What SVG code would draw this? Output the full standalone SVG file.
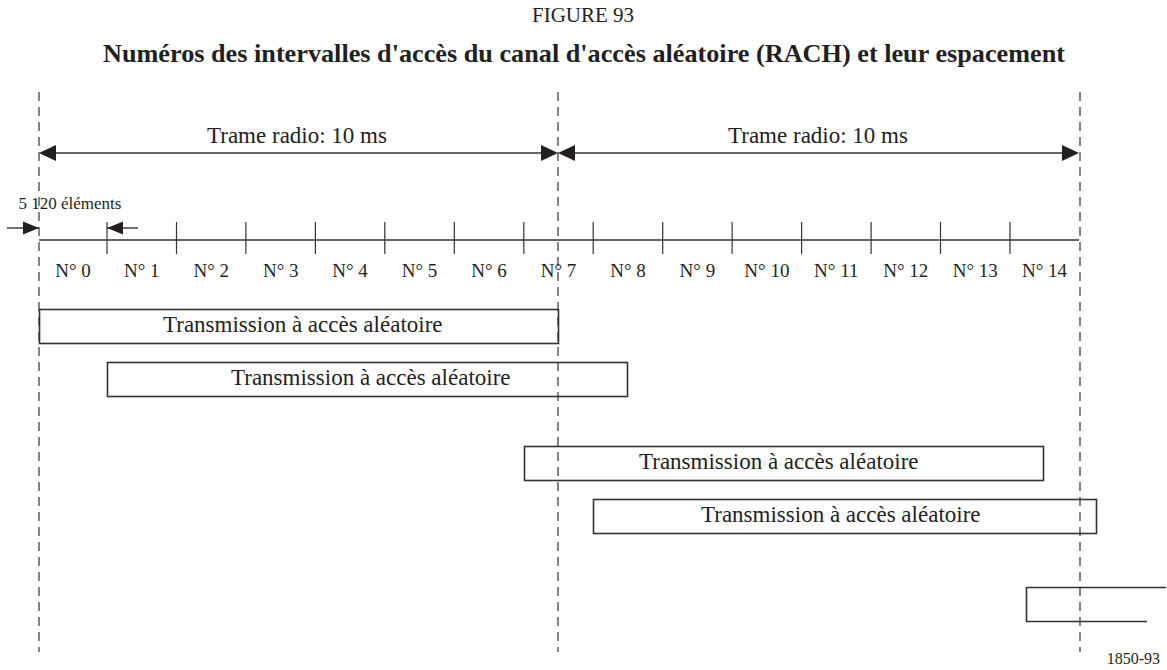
<svg xmlns="http://www.w3.org/2000/svg" width="1167" height="670" viewBox="0 0 1167 670">
  <style>
    .t { font-family: "Liberation Serif", "Times New Roman", serif; fill: #231f20; }
    .title { font-size: 21px; }
    .head { font-size: 25px; font-weight: bold; }
    .frame { font-size: 23px; }
    .slot { font-size: 19px; }
    .small { font-size: 17px; }
    .box { font-size: 23px; }
    .ref { font-size: 16px; }
    .dash { stroke: #444; stroke-width: 1.3; stroke-dasharray: 9 6; fill: none; }
    .ln { stroke: #333; stroke-width: 1.4; fill: none; }
    .tick { stroke: #333; stroke-width: 1.2; }
    .rect { fill: none; stroke: #333; stroke-width: 1.6; }
    .ah { fill: #231f20; }
  </style>

  <!-- headings -->
  <text class="t title" x="583" y="22" text-anchor="middle">FIGURE 93</text>
  <text class="t head" x="103" y="62" textLength="962" lengthAdjust="spacingAndGlyphs">Numéros des intervalles d'accès du canal d'accès aléatoire (RACH) et leur espacement</text>

  <!-- frame boundaries -->
  <g id="boundaries">
    <line class="dash" x1="39" y1="92" x2="39" y2="652"/>
    <line class="dash" x1="558" y1="92" x2="558" y2="652"/>
    <line class="dash" x1="1080" y1="92" x2="1080" y2="652"/>
  </g>

  <g id="connectors">
    <!-- radio frame spans -->
    <line class="ln" x1="50" y1="153" x2="547" y2="153"/>
    <polygon class="ah" points="39,153 56,145 56,161"/>
    <polygon class="ah" points="558,153 541,145 541,161"/>
    <line class="ln" x1="569" y1="153" x2="1068" y2="153"/>
    <polygon class="ah" points="558,153 575,145 575,161"/>
    <polygon class="ah" points="1079,153 1062,145 1062,161"/>

    <!-- 5 120 chip spacing -->
    <line class="ln" x1="7" y1="228" x2="39" y2="228"/>
    <polygon class="ah" points="39,228 23,221.5 23,234.5"/>
    <line class="ln" x1="107" y1="228" x2="138" y2="228"/>
    <polygon class="ah" points="107,228 123,221.5 123,234.5"/>
  </g>

  <g id="frame-labels">
    <text class="t frame" x="297" y="143" text-anchor="middle">Trame radio: 10 ms</text>
    <text class="t frame" x="818" y="143" text-anchor="middle">Trame radio: 10 ms</text>
    <text class="t small" x="70" y="209" text-anchor="middle">5 120 éléments</text>
  </g>

  <!-- access slot axis -->
  <g id="axis">
    <line class="ln" x1="39" y1="240" x2="1079" y2="240"/>
    <g class="tick">
      <line x1="107" y1="222" x2="107" y2="254"/>
      <line x1="176.5" y1="222" x2="176.5" y2="254"/>
      <line x1="245.9" y1="222" x2="245.9" y2="254"/>
      <line x1="315.4" y1="222" x2="315.4" y2="254"/>
      <line x1="384.8" y1="222" x2="384.8" y2="254"/>
      <line x1="454.3" y1="222" x2="454.3" y2="254"/>
      <line x1="523.8" y1="222" x2="523.8" y2="254"/>
      <line x1="593.2" y1="222" x2="593.2" y2="254"/>
      <line x1="662.7" y1="222" x2="662.7" y2="254"/>
      <line x1="732.1" y1="222" x2="732.1" y2="254"/>
      <line x1="801.6" y1="222" x2="801.6" y2="254"/>
      <line x1="871.1" y1="222" x2="871.1" y2="254"/>
      <line x1="940.5" y1="222" x2="940.5" y2="254"/>
      <line x1="1010" y1="222" x2="1010" y2="254"/>
    </g>
  </g>

  <g id="slot-labels" text-anchor="middle">
    <text class="t slot" x="73" y="277">N° 0</text>
    <text class="t slot" x="141.7" y="277">N° 1</text>
    <text class="t slot" x="211.2" y="277">N° 2</text>
    <text class="t slot" x="280.7" y="277">N° 3</text>
    <text class="t slot" x="350.1" y="277">N° 4</text>
    <text class="t slot" x="419.6" y="277">N° 5</text>
    <text class="t slot" x="489" y="277">N° 6</text>
    <text class="t slot" x="558.5" y="277">N° 7</text>
    <text class="t slot" x="628" y="277">N° 8</text>
    <text class="t slot" x="697.4" y="277">N° 9</text>
    <text class="t slot" x="766.9" y="277">N° 10</text>
    <text class="t slot" x="836.3" y="277">N° 11</text>
    <text class="t slot" x="905.8" y="277">N° 12</text>
    <text class="t slot" x="975.3" y="277">N° 13</text>
    <text class="t slot" x="1044.5" y="277">N° 14</text>
  </g>

  <!-- random access transmissions -->
  <g id="tx0">
    <rect class="rect" x="39.5" y="309.5" width="519" height="34"/>
    <text class="t box" x="163" y="332">Transmission à accès aléatoire</text>
  </g>
  <g id="tx1">
    <rect class="rect" x="107.5" y="362.5" width="520" height="34"/>
    <text class="t box" x="231" y="385">Transmission à accès aléatoire</text>
  </g>
  <g id="tx7">
    <rect class="rect" x="524.5" y="446.5" width="519" height="34"/>
    <text class="t box" x="639" y="469">Transmission à accès aléatoire</text>
  </g>
  <g id="tx8">
    <rect class="rect" x="593.5" y="499.5" width="503" height="34"/>
    <text class="t box" x="701" y="522">Transmission à accès aléatoire</text>
  </g>
  <g id="tx14">
    <path class="rect" d="M1166,587.5 H1026.5 V621.5 H1147"/>
  </g>

  <text class="t ref" x="1160" y="664" text-anchor="end">1850-93</text>
</svg>
